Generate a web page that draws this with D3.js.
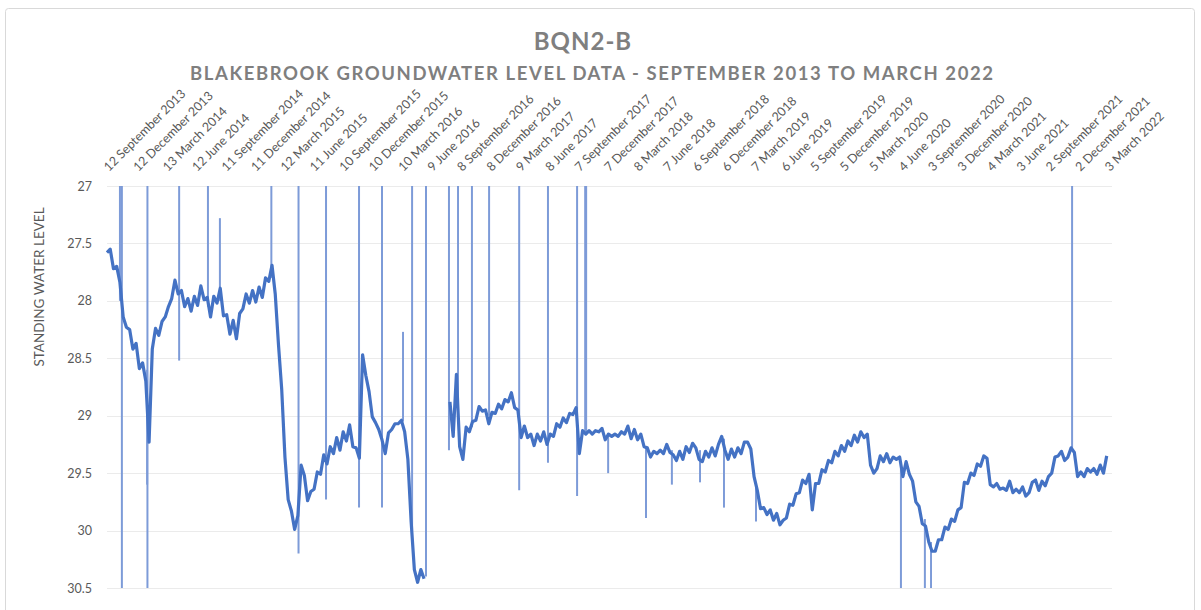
<!DOCTYPE html>
<html><head><meta charset="utf-8">
<script src="https://cdn.jsdelivr.net/npm/d3@7"></script>
<style>body{margin:0;background:#fff}svg{display:block}</style>
</head><body>
<svg id="c" width="1201" height="610"></svg>
<script>
// ---- DATA ----
const chartTitle = "BQN2-B";
const chartSubtitle = "BLAKEBROOK GROUNDWATER LEVEL DATA - SEPTEMBER 2013 TO MARCH 2022";
const yTitle = "STANDING WATER LEVEL";
const startDate = "2013-09-12";
const endDate = "2022-03-03";
const stepDays = 10; // readings below are sampled every 10 days from startDate
const levels = [
27.58,27.55,27.72,27.70,27.84,28.14,28.23,28.25,28.42,28.37,
28.59,28.54,28.70,29.23,28.42,28.24,28.30,28.18,28.14,28.05,
27.98,27.82,27.94,27.91,28.05,27.98,28.09,27.96,28.04,27.87,
27.99,27.97,28.14,27.96,28.02,27.89,28.13,28.12,28.29,28.17,
28.33,28.11,28.07,27.94,28.02,27.91,28.01,27.88,27.97,27.80,
27.83,27.69,27.94,28.38,28.77,29.36,29.73,29.83,29.99,29.87,
29.43,29.52,29.74,29.66,29.64,29.49,29.51,29.34,29.42,29.27,
29.33,29.19,29.30,29.14,29.22,29.08,29.27,29.28,29.37,28.47,
28.65,28.79,29.01,29.06,29.12,29.21,29.33,29.15,29.12,29.07,
29.07,29.04,29.14,29.38,29.92,30.34,30.45,30.34,30.42,null,
null,null,null,null,null,null,28.88,29.18,28.64,29.27,
29.38,29.10,29.14,29.05,29.04,28.92,28.96,28.95,29.07,28.97,
28.98,28.90,28.94,28.86,28.88,28.80,28.93,28.95,29.19,29.09,
29.19,29.16,29.26,29.16,29.22,29.14,29.25,29.16,29.18,29.07,
29.10,29.02,29.06,28.98,28.99,28.93,29.33,29.13,29.16,29.13,
29.16,29.13,29.14,29.11,29.21,29.16,29.18,29.16,29.18,29.14,
29.16,29.09,29.20,29.12,29.21,29.16,29.27,29.28,29.36,29.31,
29.33,29.30,29.33,29.25,29.32,29.34,29.39,29.31,29.38,29.27,
29.32,29.24,29.28,29.38,29.40,29.31,29.36,29.28,29.35,29.25,
29.18,29.30,29.38,29.29,29.36,29.28,29.33,29.23,29.23,29.29,
29.53,29.65,29.81,29.80,29.86,29.82,29.91,29.85,29.95,29.91,
29.89,29.77,29.78,29.68,29.67,29.56,29.59,29.51,29.82,29.59,
29.59,29.47,29.49,29.39,29.41,29.31,29.35,29.26,29.31,29.22,
29.26,29.17,29.23,29.14,29.19,29.16,29.43,29.50,29.46,29.35,
29.40,29.33,29.41,29.36,29.38,29.36,29.53,29.40,29.51,29.57,
29.75,29.79,29.94,29.96,30.10,30.18,30.18,30.08,30.08,29.97,
29.99,29.90,29.92,29.82,29.80,29.58,29.59,29.50,29.52,29.42,
29.44,29.35,29.37,29.60,29.62,29.59,29.64,29.63,29.65,29.57,
29.67,29.64,29.67,29.62,29.70,29.67,29.58,29.56,29.65,29.57,
29.61,29.53,29.50,29.36,29.35,29.31,29.39,29.36,29.28,29.32,
29.53,29.49,29.53,29.46,29.49,29.46,29.51,29.43,29.50,29.35
];
// spot readings (days after startDate) shown as vertical spikes
const spikeDays   = [40,46,124,125,223,312,349,508,592,677,779,850,915,943,986,1057,1085,1128,1181,1274,1363,1453,1478,1481,1549,1666,1746,1833,1907,2006,2454,2528,2547,2983];
const spikeTop    = [27,27,28.6,27,27,27,27.28,27,27,27,27,27,28.27,27,27,27,27,27,27,27,27,27,27,27,29.15,29.27,29.3,29.3,29.2,29.6,29.4,29.9,30.1,27];
const spikeBottom = [28.0,30.5,29.6,30.5,28.52,28.05,28.0,27.8,30.2,29.73,29.8,29.8,29.05,30.0,30.4,29.3,29.04,29.1,29.0,29.65,29.41,29.7,29.15,29.15,29.5,29.89,29.6,29.58,29.8,29.92,30.5,30.5,30.5,29.3];
const tickDates = ["2013-09-12","2013-12-12","2014-03-13","2014-06-12","2014-09-11","2014-12-11","2015-03-12","2015-06-11","2015-09-10","2015-12-10","2016-03-10","2016-06-09","2016-09-08","2016-12-08","2017-03-09","2017-06-08","2017-09-07","2017-12-07","2018-03-08","2018-06-07","2018-09-06","2018-12-06","2019-03-07","2019-06-06","2019-09-05","2019-12-05","2020-03-05","2020-06-04","2020-09-03","2020-12-03","2021-03-04","2021-06-03","2021-09-02","2021-12-02","2022-03-03"];
const tickLabels = ["12 September 2013","12 December 2013","13 March 2014","12 June 2014","11 September 2014","11 December 2014","12 March 2015","11 June 2015","10 September 2015","10 December 2015","10 March 2016","9 June 2016","8 September 2016","8 December 2016","9 March 2017","8 June 2017","7 September 2017","7 December 2017","8 March 2018","7 June 2018","6 September 2018","6 December 2018","7 March 2019","6 June 2019","5 September 2019","5 December 2019","5 March 2020","4 June 2020","3 September 2020","3 December 2020","4 March 2021","3 June 2021","2 September 2021","2 December 2021","3 March 2022"];
const yTickValues = [27,27.5,28,28.5,29,29.5,30,30.5];

// ---- CHART ----
const svg = d3.select("#c");
const parse = d3.utcParse("%Y-%m-%d");
const t0 = parse(startDate);
const dayMs = 86400000;
const plotL = 107, plotR = 1108, plotT = 186, plotB = 588;
const x = d3.scaleUtc().domain([t0, parse(endDate)]).range([plotL, plotR]);
const y = d3.scaleLinear().domain([27, 30.5]).range([plotT, plotB]);
const font = "Lato, 'Open Sans', sans-serif";
const grey = "#595959";

svg.append("rect").attr("x",5.5).attr("y",8.5).attr("width",1189).attr("height",640)
  .attr("rx",3).attr("fill","#fff").attr("stroke","#d9d9d9");

svg.append("defs").append("clipPath").attr("id","clip")
  .append("rect").attr("x",plotL-2).attr("y",plotT).attr("width",plotR-plotL+8).attr("height",plotB-plotT);

// gridlines
svg.append("g").selectAll("line").data(yTickValues).join("line")
  .attr("x1",plotL).attr("x2",1112)
  .attr("y1",d=>Math.round(y(d))+0.5).attr("y2",d=>Math.round(y(d))+0.5)
  .attr("stroke","#ebebeb").attr("stroke-width",1);

// y tick labels
svg.append("g").selectAll("text").data(yTickValues).join("text")
  .attr("x",92).attr("y",d=>y(d)+4.5).attr("text-anchor","end")
  .attr("font-family",font).attr("font-size",12.5).attr("fill",grey)
  .text(d=>d3.format("")(d));

// x tick labels (top, rotated)
svg.append("g").selectAll("text").data(tickDates).join("text")
  .attr("transform",(d)=>`translate(${x(parse(d))+2},172) rotate(-45)`)
  .attr("font-family",font).attr("font-size",12.5).attr("fill",grey)
  .text((d,i)=>tickLabels[i]);

// titles
svg.append("text").attr("x",583).attr("y",50).attr("text-anchor","middle")
  .attr("font-family",font).attr("font-weight",700).attr("font-size",24)
  .attr("letter-spacing",1).attr("fill","#7f7f7f").text(chartTitle);
svg.append("text").attr("x",190).attr("y",80)
  .attr("font-family",font).attr("font-weight",700).attr("font-size",18.5)
  .attr("textLength",803).attr("lengthAdjust","spacing")
  .attr("fill","#7f7f7f").text(chartSubtitle);
svg.append("text").attr("transform","translate(44,287) rotate(-90)").attr("text-anchor","middle")
  .attr("font-family",font).attr("font-size",13.5).attr("fill",grey).text(yTitle);

// series
const pts = levels.map((v,i)=>({date:new Date(t0.getTime()+i*stepDays*dayMs), v}));
const g = svg.append("g").attr("clip-path","url(#clip)");
g.selectAll("line.spike").data(spikeDays).join("line").attr("class","spike")
  .attr("x1",d=>x(new Date(t0.getTime()+d*dayMs))).attr("x2",d=>x(new Date(t0.getTime()+d*dayMs)))
  .attr("y1",(d,i)=>y(spikeTop[i])).attr("y2",(d,i)=>y(spikeBottom[i]))
  .attr("stroke","#7d9bd8").attr("stroke-width",2);
const line = d3.line().defined(d=>d.v!==null).x(d=>x(d.date)).y(d=>y(d.v));
g.append("path").datum(pts).attr("d",line).attr("fill","none")
  .attr("stroke","#4472c4").attr("stroke-width",3.2).attr("stroke-linejoin","round");
</script>
</body></html>
